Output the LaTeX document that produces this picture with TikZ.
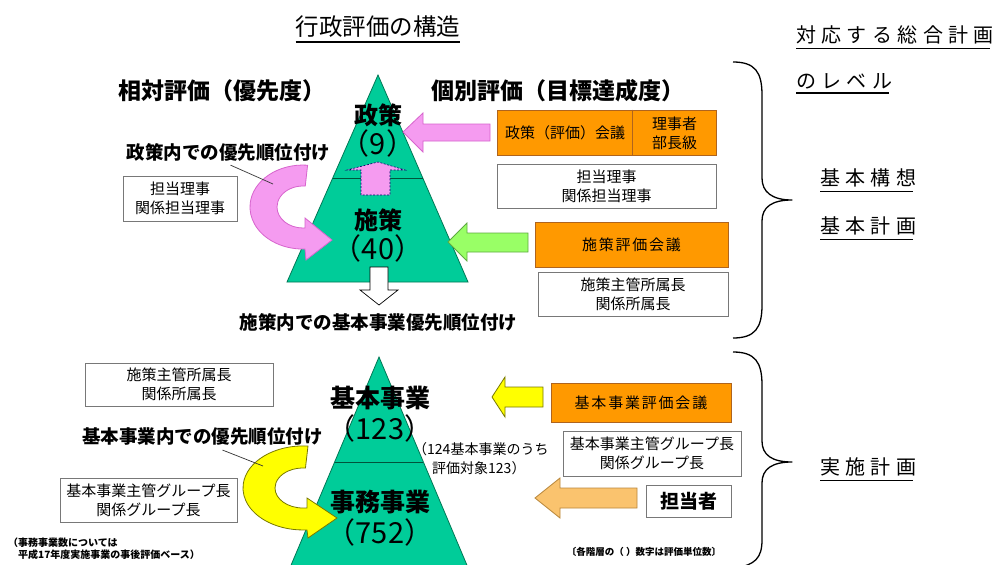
\documentclass[tikz,border=0pt]{standalone}
\usepackage{fontspec}
\setmainfont{Noto Sans CJK JP}
\usetikzlibrary{calc}
\definecolor{tri}{RGB}{0,204,153}
\definecolor{tridraw}{RGB}{0,120,85}
\definecolor{orng}{RGB}{255,153,0}
\definecolor{orngdraw}{RGB}{175,100,30}
\definecolor{pnk}{RGB}{245,155,240}
\definecolor{pnkdraw}{RGB}{215,100,205}
\definecolor{grn}{RGB}{153,255,102}
\definecolor{grndraw}{RGB}{95,170,65}
\definecolor{yel}{RGB}{255,255,0}
\definecolor{yeldraw}{RGB}{120,120,0}
\definecolor{lorng}{RGB}{250,195,110}
\definecolor{lorngdraw}{RGB}{185,135,60}
\definecolor{boxdraw}{RGB}{120,120,120}
\newcommand{\setfs}[2]{\fontsize{#1}{#2}\selectfont}
\begin{document}
\begin{tikzpicture}[x=1pt,y=-1pt,
  every node/.style={inner sep=0pt,text=black},
  wbox/.style={draw=boxdraw,fill=white,line width=0.9pt,align=center,font=\setfs{15}{19}},
  obox/.style={draw=orngdraw,fill=orng,line width=0.9pt,align=center,font=\setfs{15}{19}},
  btext/.style={font=\bfseries\setfs{18.5}{20}},
  head/.style={font=\bfseries\setfs{23}{24}},
  level/.style={anchor=west,font=\addfontfeature{LetterSpace=27}\setfs{20}{22}},
  tiertext/.style={font=\bfseries\setfs{24}{26}},
  numtext/.style={font=\setfs{29}{30}},
  small/.style={font=\bfseries\setfs{10}{11}},
  ul/.style={line width=1.3pt},
  barrow/.style={line width=0.8pt,line join=miter},
  lead/.style={line width=0.7pt,draw=black!80},
  brace/.style={line width=1.3pt,line join=round}]
\clip (0,0) rectangle (999,565);
\fill[white] (0,0) rectangle (999,565);

% titles
\node[font=\setfs{23.5}{24}] (title) at (378,27) {行政評価の構造};
\draw[ul] ($(title.south west)+(0,4)$) -- ($(title.south east)+(0,4)$);
\node[level] (lv1) at (796,35) {対応する総合計画};
\draw[ul] ($(lv1.south west)+(0,4)$) -- ($(lv1.south east)+(-4,4)$);
\node[level] (lv2) at (796,81) {のレベル};
\draw[ul] ($(lv2.south west)+(0,4)$) -- ($(lv2.south east)+(-4,4)$);
\node[level] (lv3) at (820,178) {基本構想};
\draw[ul] ($(lv3.south west)+(0,4)$) -- ($(lv3.south east)+(-4,4)$);
\node[level] (lv4) at (820,226) {基本計画};
\draw[ul] ($(lv4.south west)+(0,4)$) -- ($(lv4.south east)+(-4,4)$);
\node[level] (lv5) at (820,467) {実施計画};
\draw[ul] ($(lv5.south west)+(0,4)$) -- ($(lv5.south east)+(-4,4)$);

\node[head] (rel) at (222,91) {相対評価（優先度）};
\node[head] (ind) at (558,91) {個別評価（目標達成度）};

% braces
\draw[brace] (733,62) .. controls (755,62) and (762,72) .. (762,95) -- (762,178)
  .. controls (762,192) and (772,200) .. (792,200)
  .. controls (772,200) and (762,207) .. (762,221) -- (762,305)
  .. controls (762,328) and (755,338) .. (733,338);
\draw[brace] (733,352) .. controls (755,352) and (762,362) .. (762,385) -- (762,441)
  .. controls (762,455) and (772,462) .. (792,462)
  .. controls (772,462) and (762,469) .. (762,483) -- (762,540)
  .. controls (762,558) and (755,565) .. (735,568);

% top triangle
\coordinate (TA) at (378,75);
\coordinate (TL) at (287,282);
\coordinate (TR) at (468,282);
\filldraw[fill=tri,draw=tridraw,line width=0.8pt] (TA) -- (TL) -- (TR) -- cycle;
\draw[draw=tridraw!70!black,line width=0.8pt] ($(TA)!0.4976!(TL)$) -- ($(TA)!0.4976!(TR)$);

% bottom triangle
\coordinate (BA) at (379,357);
\coordinate (BL) at (289,570);
\coordinate (BR) at (469,570);
\filldraw[fill=tri,draw=tridraw,line width=0.8pt] (BA) -- (BL) -- (BR) -- cycle;
\draw[draw=tridraw!70!black,line width=0.8pt] ($(BA)!0.493!(BL)$) -- ($(BA)!0.493!(BR)$);

% dashed up arrow inside top triangle
\filldraw[barrow,fill=pnk,draw=black!60!blue,dash pattern=on 2pt off 1.5pt,line width=0.6pt]
  (361,195) -- (361,170) -- (347,170) -- (378,162) -- (405,170) -- (390,170) -- (390,195) -- cycle;

% white down arrow
\filldraw[barrow,fill=white,draw=black,line width=0.7pt]
  (370,267) -- (388,267) -- (388,290) -- (398,290) -- (379,305) -- (360,290) -- (370,290) -- cycle;

% pink left arrow
\filldraw[barrow,fill=pnk,draw=pnkdraw] (403,132) -- (423,113) -- (423,124) -- (490,124) -- (490,141) -- (423,141) -- (423,152) -- cycle;
% green arrow
\filldraw[barrow,fill=grn,draw=grndraw] (448,242) -- (467,223) -- (467,233) -- (528,233) -- (528,252) -- (467,252) -- (467,261) -- cycle;
% yellow arrow
\filldraw[barrow,fill=yel,draw=yeldraw] (492,397) -- (505,377) -- (505,387) -- (543,387) -- (543,407) -- (505,407) -- (505,417) -- cycle;
% light orange arrow
\filldraw[barrow,fill=lorng,draw=lorngdraw] (535,498) -- (560,478) -- (560,488) -- (637,488) -- (637,508) -- (560,508) -- (560,518) -- cycle;

% pink curved arrow
\filldraw[barrow,fill=pnk,draw=pnkdraw]
  (307.6,165.2) arc[start angle=275,end angle=90,x radius=53,y radius=42]
  -- (305,249) -- (306,260) -- (332,240) -- (305,218) -- (305,228) -- (303,228)
  arc[start angle=90,end angle=275,x radius=26,y radius=21] -- cycle;
% yellow curved arrow
\filldraw[barrow,fill=yel,draw=yeldraw]
  (308,446.1) arc[start angle=274.8,end angle=90,x radius=60,y radius=42]
  -- (307,530) -- (308,538) -- (337,518) -- (307,498) -- (307,508) -- (303,508)
  arc[start angle=90,end angle=275,x radius=28,y radius=20] -- cycle;

% tier texts
\node[tiertext] (seisaku) at (378,115) {政策};
\node[numtext] (n9) at (378,143) {（9）};
\node[tiertext] (shisaku) at (378,220) {施策};
\node[numtext] (n40) at (378,248) {（40）};
\node[tiertext,font=\bfseries\setfs{25}{26}] (kihon) at (380,398) {基本事業};
\node[numtext] (n123) at (380,428) {（123）};
\node[tiertext,font=\bfseries\setfs{25}{26}] (jimu) at (380,502) {事務事業};
\node[numtext] (n752) at (380,532) {（752）};

\node[anchor=west,font=\setfs{14}{16}] (note1a) at (413,449) {（124基本事業のうち};
\node[anchor=west,font=\setfs{14}{16}] (note1b) at (432,468) {評価対象123）};

% bold labels
\node[btext] (lab1) at (228.5,152) {政策内での優先順位付け};
\node[btext] (lab2) at (378.5,322) {施策内での基本事業優先順位付け};
\node[btext] (lab3) at (202.5,437) {基本事業内での優先順位付け};
\coordinate (pk1) at (273,184);
\coordinate (yk1) at (263,466);
\draw[lead] ([xshift=2pt,yshift=-4pt]lab1.south) -- (pk1);
\draw[lead] ([xshift=20pt,yshift=-4pt]lab3.south) -- (yk1);

% right boxes
\node[obox,minimum width=219,minimum height=45] (pk) at (606.5,132.5) {};
\draw[draw=orngdraw,line width=0.9pt] ([xshift=136pt]pk.north west) -- ([xshift=136pt]pk.south west);
\node[font=\setfs{15}{19}] (pkt) at (565,133) {政策（評価）会議};
\node[align=center,font=\setfs{15}{19}] (pkr) at (674.5,133) {理事者\\部長級};
\node[wbox,minimum width=219,minimum height=44] (b2) at (606.5,186) {担当理事\\関係担当理事};
\node[obox,minimum width=193,minimum height=45,font=\addfontfeature{LetterSpace=12}\setfs{15}{19}] (b3) at (631.5,244.5) {施策評価会議};
\node[wbox,minimum width=190,minimum height=44] (b4) at (633,294) {施策主管所属長\\関係所属長};
\node[obox,minimum width=180,minimum height=39,font=\addfontfeature{LetterSpace=12}\setfs{15}{19}] (b5) at (641,402.5) {基本事業評価会議};
\node[wbox,minimum width=178,minimum height=45] (b6) at (652,453.5) {基本事業主管グループ長\\関係グループ長};
\node[wbox,minimum width=85,minimum height=32,font=\bfseries\setfs{19}{20}] (b7) at (688.5,501) {担当者};

% left boxes
\node[wbox,minimum width=114,minimum height=45] (la) at (180,198.5) {担当理事\\関係担当理事};
\node[wbox,minimum width=188,minimum height=43] (lb) at (179,384.5) {施策主管所属長\\関係所属長};
\node[wbox,minimum width=177,minimum height=44] (lc) at (148.5,500) {基本事業主管グループ長\\関係グループ長};

% notes
\node[small,anchor=west] (nt1) at (8,543) {（事務事業数については};
\node[small,anchor=west] (nt2) at (18,555) {平成17年度実施事業の事後評価ベース）};
\node[small,font=\bfseries\setfs{9.5}{11}] (nt3) at (644,552) {〔各階層の（ ）数字は評価単位数〕};
\end{tikzpicture}
\end{document}
